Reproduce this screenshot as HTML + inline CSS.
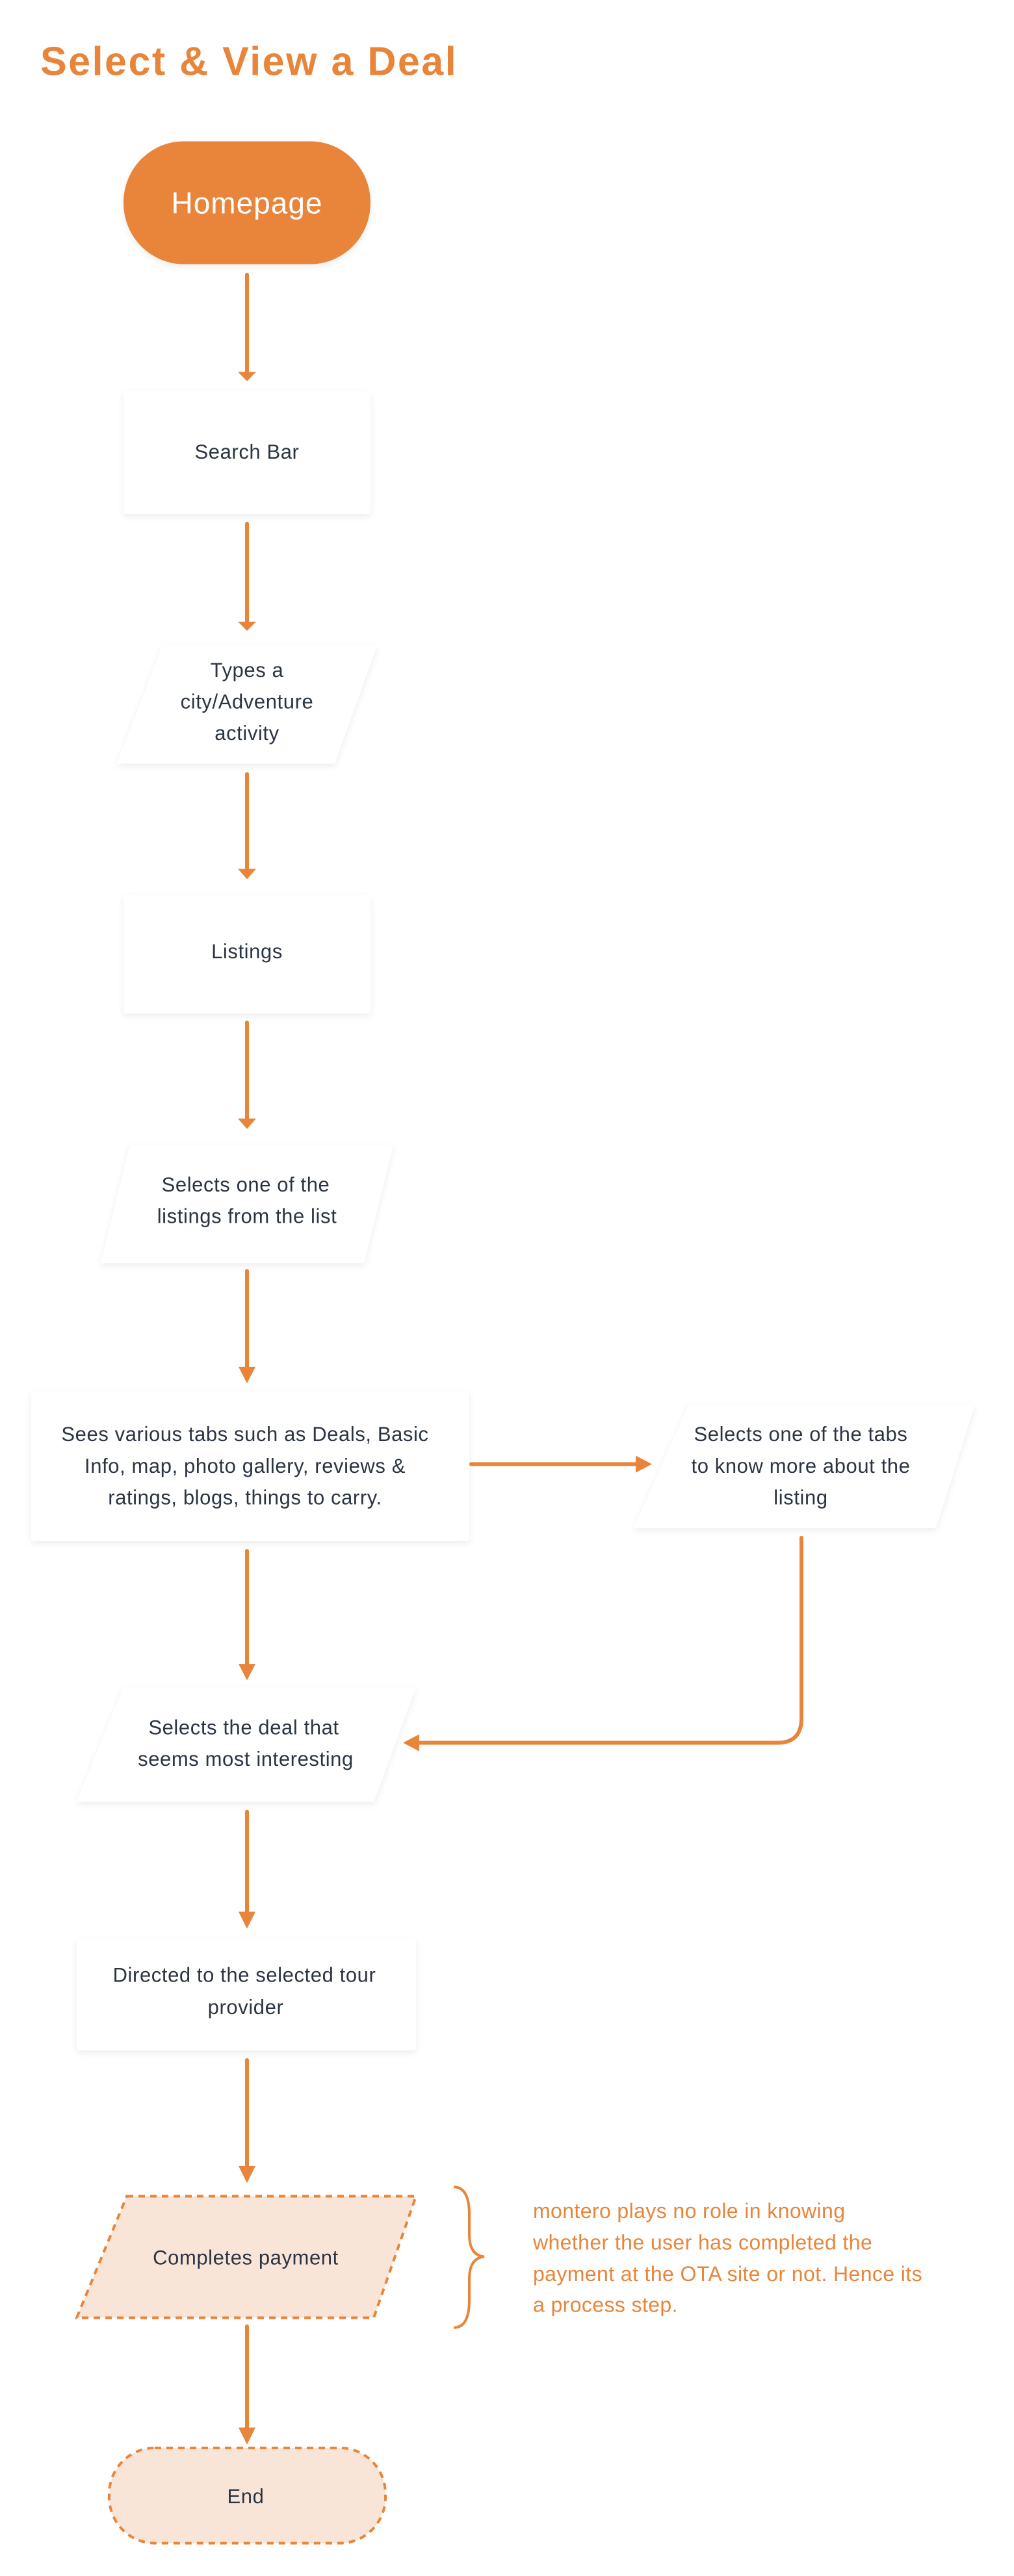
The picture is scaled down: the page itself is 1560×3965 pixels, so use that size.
<!DOCTYPE html>
<html><head><meta charset="utf-8"><style>
html,body{margin:0;padding:0;background:#fff;}
svg{display:block}
text{font-family:"Liberation Sans",sans-serif;}
.t{font-size:31px;fill:#2b3442;text-anchor:middle;letter-spacing:0.6px}
.n{font-size:32px;fill:#E8853A;letter-spacing:0.4px}
</style></head><body>
<svg width="1560" height="3965" viewBox="0 0 1560 3965" xmlns="http://www.w3.org/2000/svg">
<defs>
<filter id="sh" x="-10%" y="-10%" width="120%" height="130%"><feDropShadow dx="0" dy="4" stdDeviation="5" flood-color="#000" flood-opacity="0.07"/></filter>
</defs>
<g transform="scale(1,1.0115)">
<text x="62" y="114" style="font-size:61px;font-weight:bold;fill:#E8853A;letter-spacing:2.5px">Select &amp; View a Deal</text>

<rect x="190" y="215" width="380" height="187" rx="93" fill="#E8853A" filter="url(#sh)"/>
<text x="380" y="325" style="font-size:46px;fill:#fff;text-anchor:middle;letter-spacing:1px">Homepage</text>

<g stroke="#E8853A" stroke-width="6" fill="none" stroke-linecap="round">
<line x1="380" y1="418" x2="380" y2="568"/>
<line x1="380" y1="797" x2="380" y2="948"/>
<line x1="380" y1="1178" x2="380" y2="1326"/>
<line x1="380" y1="1556" x2="380" y2="1706"/>
<line x1="380" y1="1934" x2="380" y2="2084"/>
<line x1="725" y1="2228" x2="980" y2="2228"/>
<path d="M1233,2340 L1233,2615 Q1233,2652 1196,2652 L632,2652"/>
<line x1="380" y1="2360" x2="380" y2="2536"/>
<line x1="380" y1="2757" x2="380" y2="2913"/>
<line x1="380" y1="3135" x2="380" y2="3300"/>
<line x1="380" y1="3540" x2="380" y2="3698"/>
</g>
<g fill="#E8853A">
<path d="M366,566 L394,566 L380,580 Z"/>
<path d="M366,946 L394,946 L380,960 Z"/>
<path d="M366,1322 L394,1322 L380,1338 Z"/>
<path d="M366,1702 L394,1702 L380,1718 Z"/>
<path d="M367,2080 L393,2080 L380,2105 Z"/>
<path d="M978,2215 L978,2241 L1003,2228 Z"/>
<path d="M645,2639 L645,2665 L620,2652 Z"/>
<path d="M367,2532 L393,2532 L380,2557 Z"/>
<path d="M367,2909 L393,2909 L380,2935 Z"/>
<path d="M367,3296 L393,3296 L380,3322 Z"/>
<path d="M367,3694 L393,3694 L380,3720 Z"/>
</g>

<g fill="#fff" filter="url(#sh)">
<rect x="190" y="595" width="380" height="187" rx="4"/>
<path d="M250,982 L580,982 L515,1162 L180,1162 Z"/>
<rect x="190" y="1362" width="380" height="180" rx="4"/>
<path d="M200,1742 L605,1742 L560,1922 L155,1922 Z"/>
<rect x="48" y="2117" width="674" height="228" rx="4"/>
<path d="M1060,2137 L1500,2137 L1440,2325 L975,2325 Z"/>
<path d="M190,2567 L640,2567 L575,2742 L118,2742 Z"/>
<rect x="118" y="2950" width="522" height="170" rx="4"/>
</g>

<path d="M195,3342 L640,3342 L575,3527 L118,3527 Z" fill="#F9E5D8" stroke="#E8853A" stroke-width="4" stroke-dasharray="10,8"/>
<rect x="168" y="3725" width="425" height="145" rx="70" fill="#F9E5D8" stroke="#E8853A" stroke-width="4" stroke-dasharray="10,8"/>
<path d="M698,3328 Q722,3328 722,3370 L722,3400 Q722,3432 745,3434 Q722,3436 722,3468 L722,3500 Q722,3542 698,3542" fill="none" stroke="#E8853A" stroke-width="4"/>

<text class="t" x="380" y="698">Search Bar</text>
<text class="t" x="380" y="1030">Types a</text>
<text class="t" x="380" y="1078">city/Adventure</text>
<text class="t" x="380" y="1126">activity</text>
<text class="t" x="380" y="1458">Listings</text>
<text class="t" x="378" y="1813">Selects one of the</text>
<text class="t" x="380" y="1861">listings from the list</text>
<text class="t" x="377" y="2193">Sees various tabs such as Deals, Basic</text>
<text class="t" x="377" y="2241">Info, map, photo gallery, reviews &amp;</text>
<text class="t" x="377" y="2289">ratings, blogs, things to carry.</text>
<text class="t" x="1232" y="2193">Selects one of the tabs</text>
<text class="t" x="1232" y="2241">to know more about the</text>
<text class="t" x="1232" y="2289">listing</text>
<text class="t" x="375" y="2639">Selects the deal that</text>
<text class="t" x="378" y="2687">seems most interesting</text>
<text class="t" x="376" y="3016">Directed to the selected tour</text>
<text class="t" x="378" y="3065">provider</text>
<text class="t" x="378" y="3446">Completes payment</text>
<text class="t" x="378" y="3809">End</text>

<text class="n" x="820" y="3375">montero plays no role in knowing</text>
<text class="n" x="820" y="3423">whether the user has completed the</text>
<text class="n" x="820" y="3471">payment at the OTA site or not. Hence its</text>
<text class="n" x="820" y="3518">a process step.</text>
</g>
</svg>
</body></html>
